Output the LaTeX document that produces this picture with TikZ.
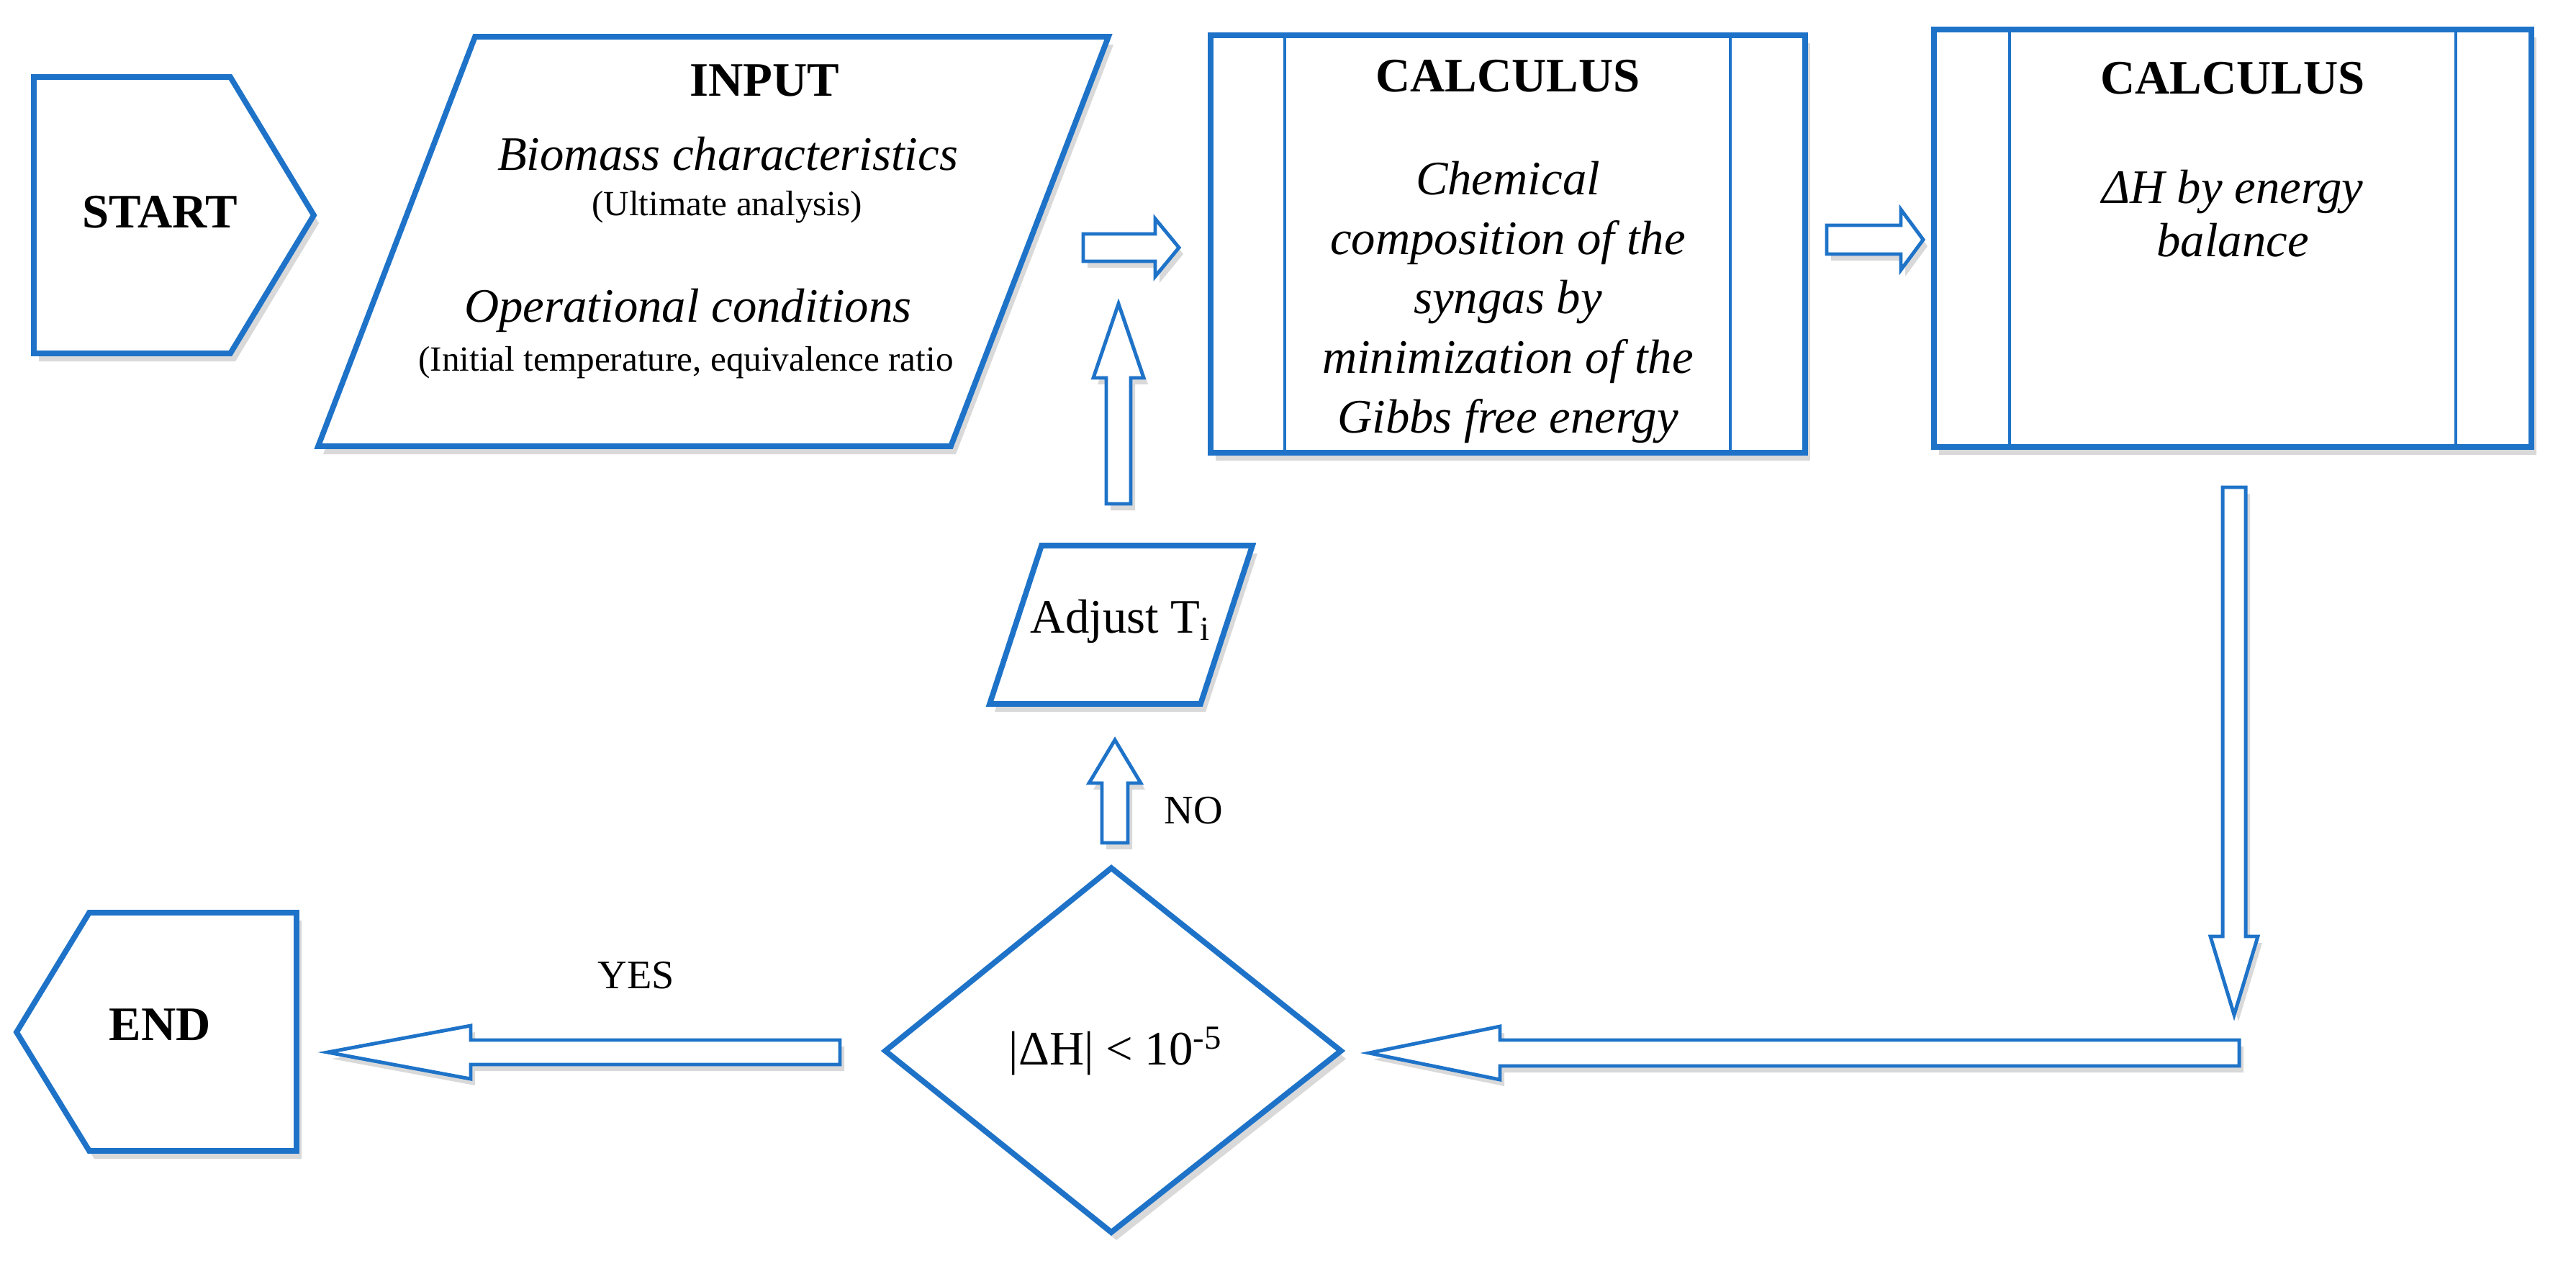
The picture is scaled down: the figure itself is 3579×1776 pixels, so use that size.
\documentclass[tikz,border=0pt]{standalone}
\usepackage{fontspec}
\setmainfont{Liberation Serif}
\usetikzlibrary{shadows}

\definecolor{flowblue}{RGB}{30,115,200}

\tikzset{
	box/.style={draw=flowblue, line width=2.2pt, fill=white, line join=miter,
		drop shadow={opacity=0.3, shadow xshift=0.7mm, shadow yshift=-1.1mm}},
	thin/.style={draw=flowblue, line width=1.1pt},
	barrow/.style={draw=flowblue, line width=1.4pt, fill=white, line join=miter,
		drop shadow={opacity=0.3, shadow xshift=0.6mm, shadow yshift=-0.9mm}},
	big/.style={font=\fontsize{19}{20}\selectfont, align=center},
	small/.style={font=\fontsize{14}{16}\selectfont, align=center}
}

% block arrow: start, angle, length, shaft half width, head half width, head length
\newcommand{\blockarrow}[6]{%
	\begin{scope}[shift={(#1)}, rotate=#2]
		\draw[barrow] (0,-#4) -- ({#3-#6},-#4) -- ({#3-#6},-#5) -- (#3,0)
		-- ({#3-#6},#5) -- ({#3-#6},#4) -- (0,#4) -- cycle;
	\end{scope}}

\begin{document}
\begin{tikzpicture}[x=0.1mm, y=-0.1mm]
	\useasboundingbox (0,0) rectangle (3579,1776);
	
	% shapes
	\draw[box] (47,107) -- (320,107) -- (436,299) -- (320,491) -- (47,491) -- cycle;
	\draw[box] (660,51) -- (1540,51) -- (1321,620) -- (442,620) -- cycle;
	\draw[box] (1682,49) rectangle (2508,629);
	\draw[thin] (1785,49) -- (1785,629) (2404,49) -- (2404,629);
	\draw[box] (2687,41) rectangle (3517,621);
	\draw[thin] (2792,41) -- (2792,621) (3412,41) -- (3412,621);
	\draw[box] (1447,758) -- (1740,758) -- (1668,978) -- (1375,978) -- cycle;
	\draw[box] (1544,1206) -- (1863,1460) -- (1544,1712) -- (1230,1460) -- cycle;
	\draw[box] (124,1268) -- (412,1268) -- (412,1599) -- (124,1599) -- (23,1434) -- cycle;
	
	% texts
	\node[big, font=\fontsize{19}{20}\selectfont\bfseries] (start) at (222,295) {START};
	\node[big, font=\fontsize{19}{20}\selectfont\bfseries] (input) at (1062,112) {INPUT};
	\node[big, font=\fontsize{19}{20}\selectfont\itshape] (biomass) at (1011,214) {Biomass characteristics};
	\node[small] (ultimate) at (1010,288) {(Ultimate analysis)};
	\node[big, font=\fontsize{19}{20}\selectfont\itshape] (operational) at (956,431) {Operational conditions};
	\node[small] (initial) at (953,504) {(Initial temperature, equivalence ratio};
	\node[big, font=\fontsize{19}{20}\selectfont\bfseries] (calc1) at (2095,106) {CALCULUS};
	\node[big, font=\fontsize{19}{23.5}\selectfont\itshape, anchor=north] (gibbs) at (2095,212)
		{Chemical\\composition of the\\syngas by\\minimization of the\\Gibbs free energy};
	\node[big, font=\fontsize{19}{20}\selectfont\bfseries] (calc2) at (3102,109) {CALCULUS};
	\node[big, font=\fontsize{19}{21}\selectfont\itshape, anchor=north] (balance) at (3102,224)
		{ΔH by energy\\balance};
	\node[big] (adjust) at (1557,863) {Adjust T\textsubscript{i}};
	\node[big] (check) at (1550,1460) {|ΔH| < 10\textsuperscript{-5}};
	\node[big, font=\fontsize{19}{20}\selectfont\bfseries] (end) at (222,1424) {END};
	\node[small, font=\fontsize{16}{18}\selectfont] (yes) at (884,1355) {YES};
	\node[small, font=\fontsize{16}{18}\selectfont] (no) at (1658,1126) {NO};
	
	% connectors
	\coordinate (a1) at (1505,344);
	\coordinate (a2) at (2538,333);
	\coordinate (a3) at (3104,677);
	\coordinate (a4) at (3111,1463);
	\coordinate (a5) at (1167,1462);
	\coordinate (a6) at (1549,1171);
	\coordinate (a7) at (1554,700);
	\blockarrow{a1}{0}{133}{19}{40}{33}
	\blockarrow{a2}{0}{134}{20}{42}{31}
	\blockarrow{a3}{-90}{733}{16}{33}{109}
	\blockarrow{a4}{180}{1209}{18}{37}{182}
	\blockarrow{a5}{180}{712}{17}{37}{199}
	\blockarrow{a6}{90}{143}{18}{36}{60}
	\blockarrow{a7}{90}{278}{17}{35}{103}
\end{tikzpicture}
\end{document}
